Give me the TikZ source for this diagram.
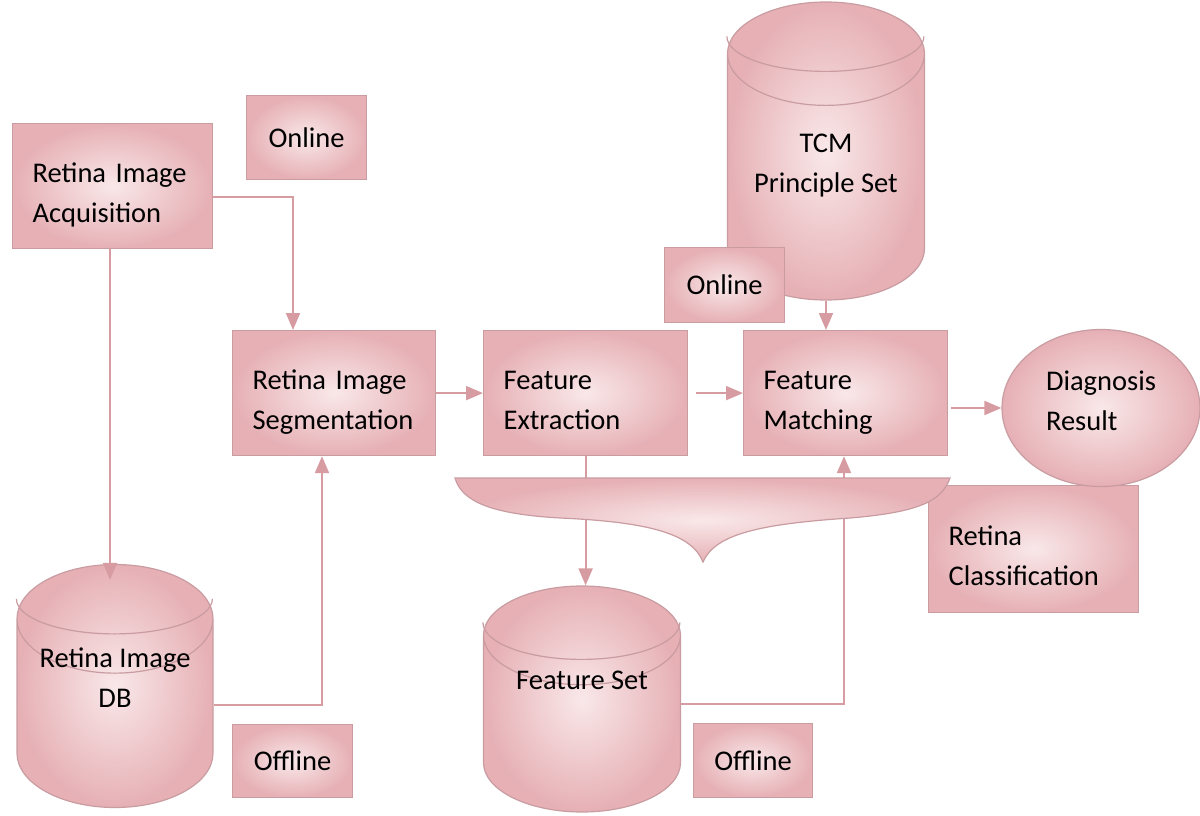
\documentclass[tikz,border=0pt]{standalone}
\usepackage{fontspec}
\setmainfont{Carlito}
\usetikzlibrary{shapes.geometric,arrows.meta}

\definecolor{rosefonce}{HTML}{E6B0B5}
\definecolor{roseclair}{HTML}{F9E8E9}
\definecolor{bordrose}{HTML}{C99CA1}
\definecolor{flecherose}{HTML}{D69CA2}

\begin{document}
\begin{tikzpicture}[x=1pt, y=-1pt]
	\tikzset{
		rose/.style={shading=radial, inner color=roseclair, outer color=rosefonce, draw=bordrose, line width=1.2pt},
		texte/.style={font=\fontsize{28.5}{40}\selectfont},
		boite/.style={rose, texte, rectangle, align=left, anchor=north west, inner xsep=20pt, inner ysep=0pt, text depth=26pt},
		etiquette/.style={rose, texte, rectangle, align=center, anchor=north west, inner sep=0pt},
		base/.style={rose, texte, cylinder, shape border rotate=90, align=center, inner sep=0pt, anchor=shape center},
		nom/.style={texte, align=center, inner sep=0pt},
		rebord/.style={draw=bordrose, line width=1.2pt},
		fleche/.style={-{Triangle[length=17pt, width=14pt]}, draw=flecherose, line width=2pt}
	}
	\useasboundingbox (0,0) rectangle (1200,816);

	% bases de donnees (texte pose a part, plus haut)
	\node[base, aspect=0.72, minimum width=196pt, minimum height=243pt] (db) at (115,686) {\phantom{Retina Image}\\\phantom{DB}};
	\node[base, aspect=0.75, minimum width=197pt, minimum height=226pt] (fset) at (582,699) {\phantom{Feature Set}};
	\node[base, aspect=0.72, minimum width=197pt, minimum height=298pt] (tcm) at (826,151) {\phantom{TCM}\\\phantom{Principle Set}};
	\draw[rebord] (db.top -| db.west) ++(0,35) arc[start angle=180, end angle=360, x radius=98pt, y radius=35pt];
	\draw[rebord] (fset.top -| fset.west) ++(0,37) arc[start angle=180, end angle=360, x radius=98.5pt, y radius=37pt];
	\draw[rebord] (tcm.top -| tcm.west) ++(0,35) arc[start angle=180, end angle=360, x radius=98.5pt, y radius=35pt];
	\node[nom] (dbnom) at (115,678) {Retina Image\\DB};
	\node[nom] (fsetnom) at (582,680) {Feature Set};
	\node[nom] (tcmnom) at (826,166) {TCM\\Principle Set};

	% etapes
	\node[boite, text width=160pt, minimum height=125pt] (acq) at (12,123) {Retina Image\\Acquisition};
	\node[boite, text width=163pt, minimum height=125pt] (seg) at (232,330) {Retina Image\\Segmentation};
	\node[boite, text width=164pt, minimum height=125pt] (fe) at (483,330) {Feature\\Extraction};
	\node[boite, text width=164pt, minimum height=125pt] (fm) at (743,330) {Feature\\Matching};

	% modes
	\node[etiquette, minimum width=120pt, minimum height=84pt] (on1) at (246,95) {Online};
	\node[etiquette, minimum width=120pt, minimum height=75pt] (on2) at (664,247) {Online};
	\node[etiquette, minimum width=120pt, minimum height=73pt] (off1) at (232,724) {Offline};
	\node[etiquette, minimum width=119pt, minimum height=74pt] (off2) at (693,723) {Offline};

	% liaisons
	\draw[fleche] (acq.east |- 0,197) -| (seg.north -| 293,0);
	\draw[fleche, shorten >=-16pt] (acq.south -| 110,0) -- (db.north -| 110,0);
	\draw[fleche] (db.east |- 0,705) -| (seg.south -| 322,0);
	\draw[fleche] (seg.east) -- (fe.west);
	\draw[fleche, shorten <=8pt] (fe.east) -- (fm.west);
	\draw[fleche] (tcm.south) -- (fm.north -| tcm.south);
	\draw[fleche] (fe.south) -- (fe.south |- fset.north);
	\draw[fleche] (fset.east |- 0,704) -| (fm.south -| 844,0);

	\node[boite, text width=170pt, minimum height=127pt] (classif) at (928,485) {Retina\\Classification};

	% accolade
	\draw[rose] (455,478) -- (950,478)
		.. controls (942,500) and (922,512) .. (850,518)
		.. controls (760,524) and (715,534) .. (703,562)
		.. controls (692,534) and (650,522) .. (560,518)
		.. controls (492,514) and (462,502) .. (455,478) -- cycle;

	\node[rose, texte, ellipse, align=left, inner sep=0pt, minimum width=198pt, minimum height=157pt, text depth=15pt] (diag) at (1101,408) {Diagnosis\\Result};
	\draw[fleche, shorten <=3pt] (fm.east |- diag.west) -- (diag.west);

\end{tikzpicture}
\end{document}
